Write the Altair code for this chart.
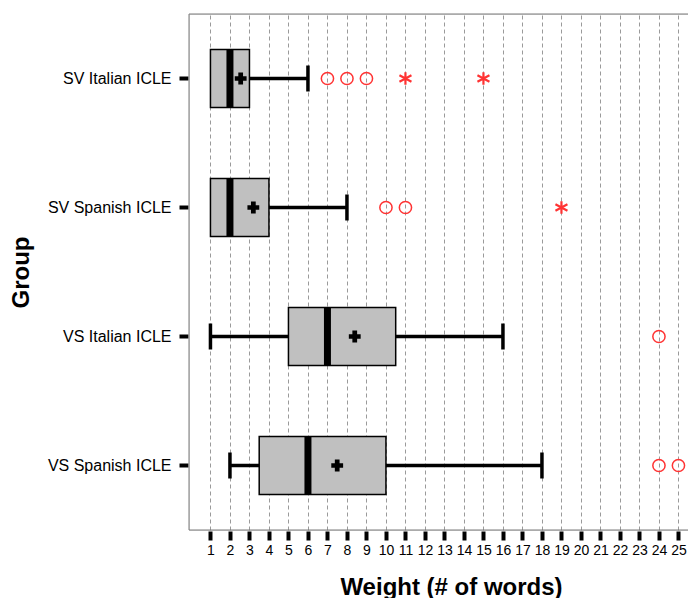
import altair as alt
import pandas as pd

# ---- data ----
groups = ["SV Italian ICLE", "SV Spanish ICLE", "VS Italian ICLE", "VS Spanish ICLE"]
q1 = [1, 1, 5, 3.5]
median = [2, 2, 7, 6]
q3 = [3, 4, 10.5, 10]
mean = [2.55, 3.2, 8.4, 7.5]
whisk_lo = [1, 1, 1, 2]
whisk_hi = [6, 8, 16, 18]

circle_groups = ["SV Italian ICLE", "SV Italian ICLE", "SV Italian ICLE",
                 "SV Spanish ICLE", "SV Spanish ICLE",
                 "VS Italian ICLE",
                 "VS Spanish ICLE", "VS Spanish ICLE"]
circle_values = [7, 8, 9, 10, 11, 24, 24, 25]

star_groups = ["SV Italian ICLE", "SV Italian ICLE", "SV Spanish ICLE"]
star_values = [11, 15, 19]

x_ticks = list(range(1, 26))

# ---- tables ----
box_df = pd.DataFrame({"group": groups, "q1": q1, "median": median, "q3": q3,
                       "mean": mean, "lo": whisk_lo, "hi": whisk_hi})
cap_rows = []
for g, lo, hi, a, b in zip(groups, whisk_lo, whisk_hi, q1, q3):
    if lo < a:
        cap_rows.append({"group": g, "v": lo})
    if hi > b:
        cap_rows.append({"group": g, "v": hi})
cap_df = pd.DataFrame(cap_rows)
circ_df = pd.DataFrame({"group": circle_groups, "v": circle_values})
star_df = pd.DataFrame({"group": star_groups, "v": star_values})
dummy = pd.DataFrame({"a": [0]})

W = 499
H = 516
RED = "#ff3333"
FONT = "Liberation Sans"

xscale = alt.Scale(domain=[-0.1, 25.49], nice=False, zero=False)
yscale = alt.Scale(domain=groups, paddingInner=0, paddingOuter=0)

x_axis = alt.Axis(values=x_ticks, title="Weight (# of words)", grid=True,
                  gridColor="#9a9a9a", gridDash=[4, 3], gridWidth=1,
                  domain=False, ticks=True, tickColor="black", tickWidth=4,
                  tickSize=9, offset=1, labelFontSize=14, labelColor="black",
                  labelFont=FONT, labelPadding=3, labelOverlap=False,
                  titleFont=FONT, titleFontSize=24, titleFontWeight="bold",
                  titleColor="black", titleX=262, titleY=63,
                  titleBaseline="alphabetic", titleAnchor="middle")
y_axis = alt.Axis(title="Group", grid=False, domain=False, ticks=True,
                  tickColor="black", tickWidth=4, tickSize=9, offset=1,
                  labelFontSize=16, labelColor="black", labelFont=FONT,
                  labelPadding=8, titleFont=FONT, titleFontSize=24,
                  titleFontWeight="bold", titleColor="black",
                  titleX=-167, titleY=H / 2, titleBaseline="middle",
                  titleAnchor="middle")


def X(field):
    return alt.X(field, type="quantitative", scale=xscale, axis=x_axis)


def Y():
    return alt.Y("group:N", sort=groups, scale=yscale, axis=y_axis)


whisk = alt.Chart(box_df).mark_rule(color="black", strokeWidth=3.5).encode(
    x=X("lo"), x2="hi", y=Y())
caps = alt.Chart(cap_df).mark_tick(color="black", thickness=3.5, size=26,
                                   opacity=1).encode(x=X("v"), y=Y())
box = alt.Chart(box_df).mark_bar(size=58, color="#c0c0c0", stroke="black",
                                 strokeWidth=1.5).encode(
    x=X("q1"), x2="q3", y=Y())
med = alt.Chart(box_df).mark_tick(color="black", thickness=7, size=57,
                                  opacity=1).encode(x=X("median"), y=Y())
mn = alt.Chart(box_df).mark_point(shape="cross", filled=True, color="black",
                                  size=140, opacity=1).encode(
    x=X("mean"), y=Y())
circ = alt.Chart(circ_df).mark_point(shape="circle", filled=False, color=RED,
                                     size=150, strokeWidth=1.5,
                                     opacity=1).encode(x=X("v"), y=Y())
star = alt.Chart(star_df).mark_point(
    shape="M0,-1L0,1M-0.95,-0.5L0.95,0.5M-0.95,0.5L0.95,-0.5",
    filled=False, color=RED, size=160, strokeWidth=2.2, opacity=1).encode(
    x=X("v"), y=Y())

frame_left = alt.Chart(dummy).mark_rule(color="#7a7a7a", strokeWidth=1).encode(
    x=alt.value(0), y=alt.value(0), y2=alt.value(H))
frame_top = alt.Chart(dummy).mark_rule(color="#7a7a7a", strokeWidth=1).encode(
    x=alt.value(0), x2=alt.value(W + 5), y=alt.value(0))
frame_bot = alt.Chart(dummy).mark_rule(color="#7a7a7a", strokeWidth=1).encode(
    x=alt.value(0), x2=alt.value(W + 5), y=alt.value(H))

chart = alt.layer(whisk, caps, box, med, mn, circ, star,
                  frame_left, frame_top, frame_bot).properties(
    width=W, height=H,
    autosize=alt.AutoSizeParams(type="none"),
    padding={"left": 181, "top": 6, "right": 0, "bottom": 68},
).configure_view(stroke=None).configure(background="white")

chart.save("out.html", embed_options={"renderer": "svg", "actions": False})
